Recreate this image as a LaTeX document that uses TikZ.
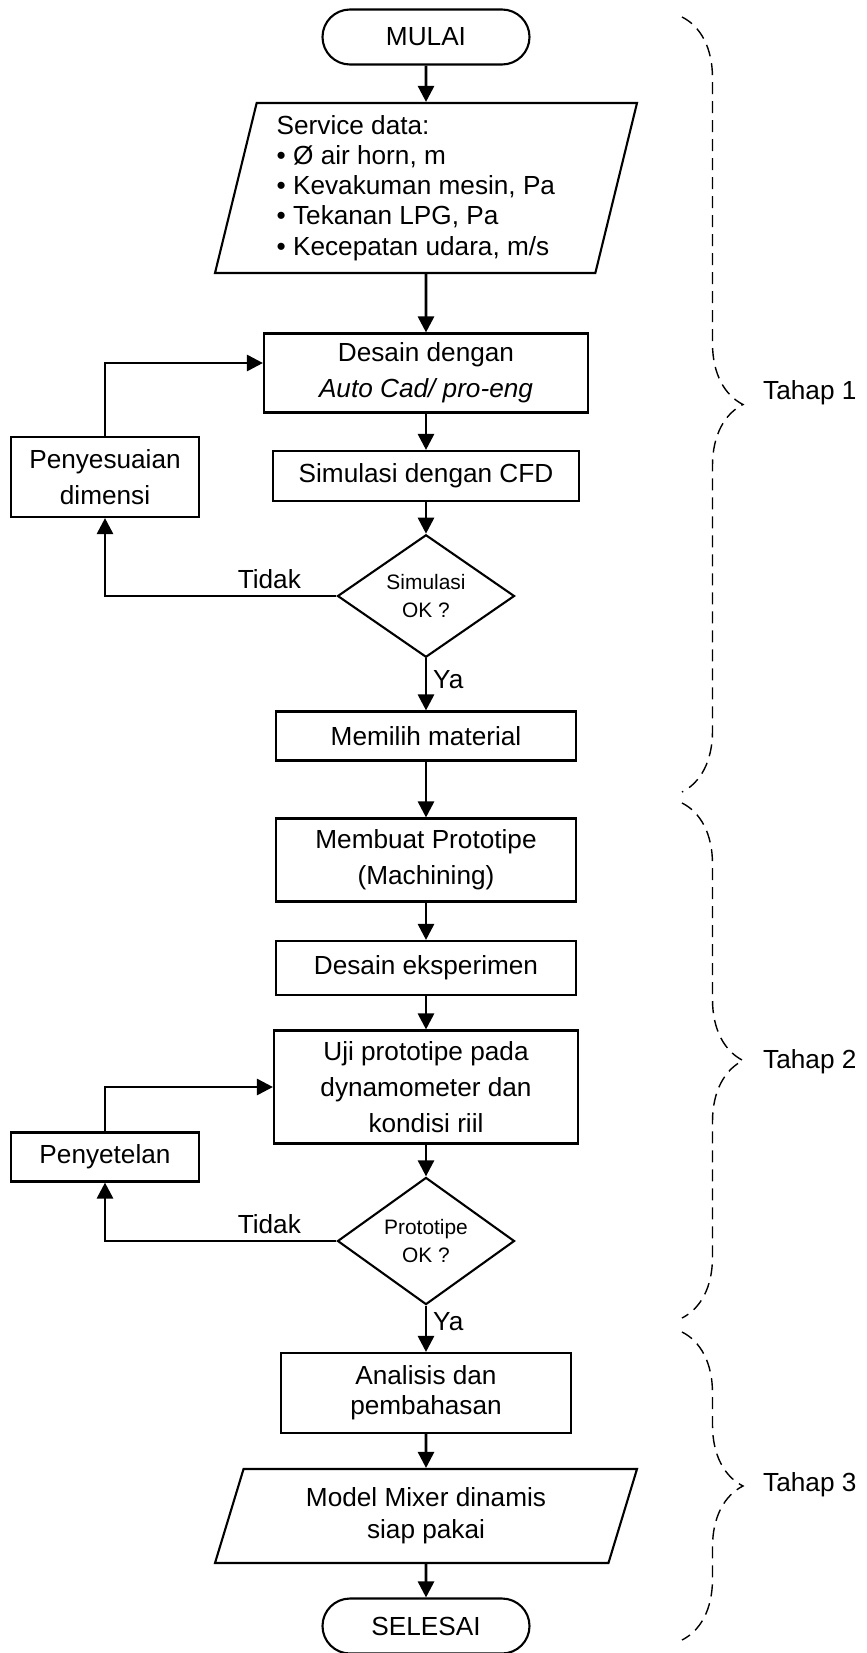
\documentclass[tikz,border=0pt]{standalone}
\usepackage{fontspec}
\setmainfont{Liberation Sans}
\usetikzlibrary{shapes.geometric,shapes.misc,arrows.meta,decorations.pathreplacing}

\tikzset{
  base/.style={draw, line width=0.42mm, align=center, inner sep=0pt,
    font=\fontsize{14.9}{20.4}\selectfont},
  process/.style={base, rectangle, minimum width=60mm},
  terminal/.style={base, rounded rectangle, minimum width=41.4mm, minimum height=11mm},
  io/.style={base, trapezium, trapezium stretches body, minimum width=84.4mm},
  decision/.style={base, diamond, minimum width=35.4mm, minimum height=23.4mm,
    font=\fontsize{11.9}{16}\selectfont},
  arrow/.style={line width=0.55mm, -{Triangle[length=3.2mm,width=3.2mm]}},
  stagebrace/.style={line width=0.28mm, dash pattern=on 2.4mm off 1.4mm,
    decorate, decoration={brace, amplitude=12.2mm}},
  remark/.style={font=\fontsize{14.9}{18}\selectfont}
}

\begin{document}
\begin{tikzpicture}[x=0.2mm, y=0.2mm]
  \useasboundingbox (0,0) rectangle (867,-1653);
  % main column
  \node[terminal] (mulai) at (426,-37) {MULAI};
  \node[io, minimum height=34mm, trapezium left angle=74, trapezium right angle=106,
    align=left, font=\fontsize{14.9}{17.2}\selectfont] (data) at (426,-188)
    {Service data:\\• Ø air horn, m\\• Kevakuman mesin, Pa\\• Tekanan LPG, Pa\\• Kecepatan udara, m/s\hspace*{5.2mm}};
  \node[process, minimum width=64.8mm, minimum height=15.8mm] (desain) at (426,-373)
    {Desain dengan\\\textit{Auto Cad/ pro-eng}};
  \node[process, minimum width=61.2mm, minimum height=10mm] (cfd) at (426,-476) {Simulasi dengan CFD};
  \node[decision] (simok) at (426,-596) {Simulasi\\OK ?};
  \node[process, minimum height=9.8mm] (material) at (426,-736) {Memilih material};
  \node[process, minimum height=16.6mm] (prototipe) at (426,-860) {Membuat Prototipe\\(Machining)};
  \node[process, minimum height=10.8mm] (eksperimen) at (426,-968) {Desain eksperimen};
  \node[process, minimum width=60.8mm, minimum height=22.6mm] (uji) at (426,-1087)
    {Uji prototipe pada\\dynamometer dan\\kondisi riil};
  \node[decision] (protook) at (426,-1241) {Prototipe\\OK ?};
  \node[process, minimum width=58mm, minimum height=16mm,
    font=\fontsize{14.9}{17}\selectfont] (analisis) at (426,-1393) {Analisis dan\\pembahasan};
  \node[io, minimum height=18.8mm, trapezium left angle=63, trapezium right angle=117,
    font=\fontsize{14.9}{18}\selectfont] (model) at (426,-1516) {Model Mixer dinamis\\siap pakai};
  \node[terminal] (selesai) at (426,-1626) {SELESAI};
  % side boxes
  \node[process, minimum width=37.6mm, minimum height=16mm] (penyesuaian) at (105,-477)
    {Penyesuaian\\dimensi};
  \node[process, minimum width=37.6mm, minimum height=9.8mm] (penyetelan) at (105,-1157) {Penyetelan};

  \draw[arrow] (mulai) -- (data);
  \draw[arrow] (data) -- (desain);
  \draw[arrow] (desain) -- (cfd);
  \draw[arrow] (cfd) -- (simok);
  \draw[arrow] (simok) -- node[remark, right, pos=0.4] {Ya} (material);
  \draw[arrow] (material) -- (prototipe);
  \draw[arrow] (prototipe) -- (eksperimen);
  \draw[arrow] (eksperimen) -- (uji);
  \draw[arrow] (uji) -- (protook);
  \draw[arrow] (protook) -- node[remark, right, pos=0.35] {Ya} (analisis);
  \draw[arrow] (analisis) -- (model);
  \draw[arrow] (model) -- (selesai);
  % loops back
  \draw[arrow] (simok) -| node[remark, above, pos=0.145] {Tidak} (penyesuaian);
  \draw[arrow] (penyesuaian) |- ([yshift=2mm]desain.west);
  \draw[arrow] (protook) -| node[remark, above, pos=0.145] {Tidak} (penyetelan);
  \draw[arrow] (penyetelan) |- (uji);

  % stages
  \draw[stagebrace] (682,-17) -- (682,-792);
  \node[remark, anchor=west] (tahap1) at (757,-393) {Tahap 1};
  \draw[stagebrace] (682,-803) -- (682,-1318);
  \node[remark, anchor=west] (tahap2) at (757,-1062) {Tahap 2};
  \draw[stagebrace] (682,-1332) -- (682,-1640);
  \node[remark, anchor=west] (tahap3) at (757,-1485) {Tahap 3};
\end{tikzpicture}
\end{document}
